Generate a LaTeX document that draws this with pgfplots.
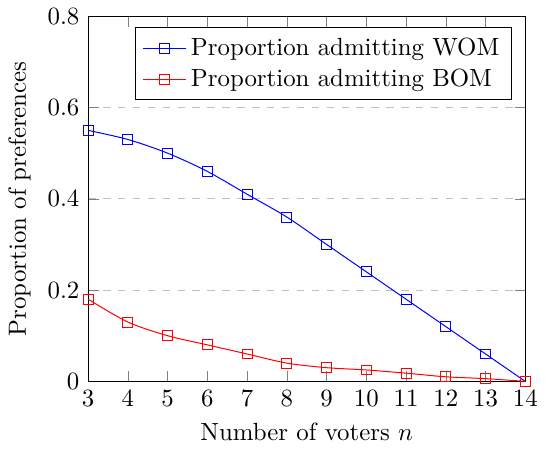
\documentclass[border=0pt]{standalone}
\usepackage{pgfplots}
\pgfplotsset{compat=1.18}
\begin{document}
\begin{tikzpicture}
\begin{axis}[
    scale only axis,
    width=176pt,
    height=147pt,
    xmin=3, xmax=14,
    ymin=0, ymax=0.8,
    xtick={3,4,...,14},
    ytick={0,0.2,0.4,0.6,0.8},
    ymajorgrids,
    grid style={dashed, gray!50},
    xlabel={Number of voters $n$},
    ylabel={Proportion of preferences},
    legend pos=north east,
    legend cell align=left,
]
\addplot[blue, mark=square, mark options={blue, solid}, smooth] coordinates {
    (3,0.55) (4,0.53) (5,0.50) (6,0.46) (7,0.41) (8,0.36)
    (9,0.30) (10,0.24) (11,0.18) (12,0.12) (13,0.06) (14,0.0)
};
\addplot[red, mark=square, mark options={red, solid}, smooth] coordinates {
    (3,0.18) (4,0.13) (5,0.10) (6,0.08) (7,0.06) (8,0.04)
    (9,0.03) (10,0.025) (11,0.018) (12,0.01) (13,0.006) (14,0.0)
};
\legend{Proportion admitting WOM, Proportion admitting BOM}
\end{axis}
\end{tikzpicture}
\end{document}
